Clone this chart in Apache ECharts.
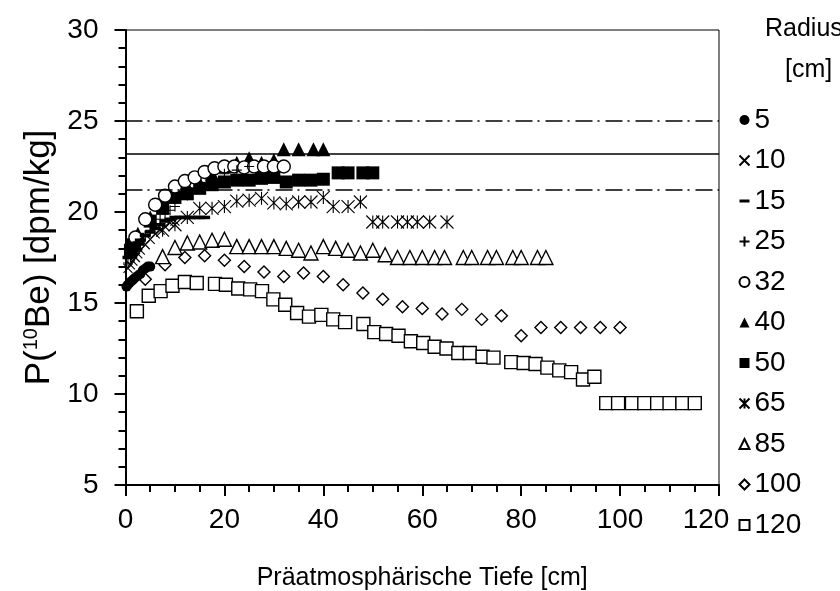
<!DOCTYPE html>
<html>
<head>
<meta charset="utf-8">
<script src="https://cdn.jsdelivr.net/npm/echarts@6/dist/echarts.min.js"></script>
<style>html,body{margin:0;padding:0;background:#fff}#c{width:840px;height:591px}</style>
</head>
<body>
<div id="c"></div>
<script>
// ---- data ----
const radii = ['5','10','15','25','32','40','50','65','85','100','120'];
const refLines = [25, 23.2, 21.2];
const xTicks = [0,20,40,60,80,100,120];
const yTicks = [5,10,15,20,25,30];

const r5x  = [0.2,0.5,0.8,1.2,1.6,2,2.5,3,3.5,4,4.5,5];
const r5y  = [15.9,16.0,16.1,16.2,16.3,16.4,16.5,16.6,16.8,16.9,17.0,17.0];
const r10x = [0.5,1,1.5,2,2.5,3,4,5,6,7,8,9,10];
const r10y = [16.9,17.1,17.3,17.5,17.7,17.9,18.2,18.5,18.8,19.0,19.2,19.4,19.5];
const r15x = [0.5,1,1.5,2,2.5,3,4,5,6,7,8,9,10,11,12,13,14,15,16];
const r15y = [17.5,17.7,17.9,18.1,18.3,18.45,18.7,18.9,19.1,19.3,19.5,19.6,19.7,19.7,19.7,19.7,19.7,19.7,19.7];
const r25x = [0.5,1,2,3,4,5,6,7,8,9,10,12.5,15,17.5,20,22.5,25];
const r25y = [17.2,17.5,17.9,18.3,18.7,19.0,19.3,19.6,19.9,20.1,20.3,20.9,21.4,21.8,22.1,22.3,22.5];
const r32x = [2,4,6,8,10,12,14,16,18,20,22,24,26,28,30,32];
const r32y = [18.6,19.6,20.4,20.9,21.4,21.7,21.9,22.2,22.4,22.5,22.5,22.45,22.5,22.5,22.5,22.5];
const r40x = [2,2.5,5,7.5,10,12.5,15,17.5,20,22.5,25,27.5,30,32,35,38,40];
const r40y = [18.3,18.8,19.7,20.6,21.1,21.4,21.6,22.1,22.5,22.7,22.95,22.7,22.85,23.45,23.45,23.45,23.45];
const r50x = [1,1.5,2.5,5,7.5,10,12.5,15,17.5,20,22.5,25,27.5,30,32.5,35,37.5,40,43,45,48,50];
const r50y = [17.9,18.2,18.5,19.5,20.2,20.8,21.0,21.3,21.5,21.65,21.75,21.75,21.85,21.9,21.65,21.75,21.75,21.8,22.15,22.15,22.15,22.15];
const r65x = [7.5,10,12.5,15,17.5,20,22.5,25,27.5,30,32.5,35,37.5,40,42,45,47.5,50,52,55,57,59,61.5,65];
const r65y = [19.0,19.3,19.7,20.2,20.2,20.3,20.6,20.65,20.75,20.5,20.45,20.55,20.55,20.8,20.3,20.3,20.55,19.45,19.45,19.45,19.45,19.45,19.45,19.45];
const r85x = [7.5,10,12.5,15,17.5,20,22.5,25,27.5,30,32.5,35,37.5,40,42.5,45,47.5,50,52.5,55,57.5,60,62.5,64.5,68.3,70,73.2,75,78.3,80,83.3,85];
const r85y = [17.55,18.05,18.3,18.35,18.45,18.5,18.1,18.1,18.1,18.1,18.0,17.9,17.75,18.1,18.0,17.9,17.75,17.9,17.65,17.5,17.5,17.5,17.5,17.5,17.5,17.5,17.5,17.5,17.5,17.5,17.5,17.5];
const r100x = [4,8,12,16,20,24,28,32,36,40,44,48,52,56,60,64,68,72,76,80,84,88,92,96,100];
const r100y = [16.3,17.1,17.5,17.6,17.35,17.0,16.7,16.45,16.65,16.45,16.0,15.55,15.2,14.8,14.7,14.4,14.65,14.1,14.3,13.2,13.65,13.65,13.65,13.65,13.65];
const r120x = [2.3,4.7,7.1,9.5,12,14.4,18.1,20.3,22.8,25.2,27.6,29.9,32.3,34.7,37.1,39.6,42,44.4,48.1,50.3,52.7,55.2,57.7,60.2,62.5,64.9,67.3,69.6,72.2,74.4,78,80.5,82.9,85.3,87.7,90.1,92.5,94.8,97.2,99.6,102.4,104.9,107.5,110,112.6,115.1];
const r120y = [14.55,15.4,15.65,15.95,16.15,16.1,16.05,16.0,15.8,15.75,15.65,15.2,14.9,14.45,14.25,14.35,14.1,13.95,13.85,13.4,13.3,13.2,12.9,12.8,12.6,12.5,12.25,12.25,12.05,12.0,11.75,11.7,11.65,11.45,11.3,11.2,10.8,10.95,9.5,9.5,9.5,9.5,9.5,9.5,9.5,9.5];

// ---- build ----
const FONT = '"Liberation Sans", Arial, sans-serif';
const zip = (xs, ys) => xs.map((x, i) => [x, ys[i]]);
const xs = [r5x,r10x,r15x,r25x,r32x,r40x,r50x,r65x,r85x,r100x,r120x];
const ys = [r5y,r10y,r15y,r25y,r32y,r40y,r50y,r65y,r85y,r100y,r120y];

const filled = {color:'#000', borderColor:'#000', borderWidth:0, opacity:1};
const open = {color:'#fff', borderColor:'#000', borderWidth:1.4, opacity:1};
const stroke = {color:'none', borderColor:'#000', borderWidth:1.1, opacity:1};
const styles = [
  {symbol:'circle', size:10, it:filled},
  {symbol:'path://M0,0L10,10M10,0L0,10', size:9, it:stroke},
  {symbol:'path://M0,0L10,0L10,3L0,3Z', size:[11,3.5], it:filled},
  {symbol:'path://M5,0L5,10M0,5L10,5', size:10, it:stroke},
  {symbol:'circle', size:13, it:open},
  {symbol:'triangle', size:14, it:filled},
  {symbol:'rect', size:13, it:filled},
  {symbol:'path://M0,0L10,10M10,0L0,10M5,0L5,10', size:13, it:stroke},
  {symbol:'triangle', size:14, it:open},
  {symbol:'diamond', size:12, it:open},
  {symbol:'rect', size:13, it:open}
];
const legendIcons = [
  'circle',
  'path://M0,0L10,10M10,0L0,10',
  'path://M0,0L10,0L10,3L0,3Z',
  'path://M5,0L5,10M0,5L10,5',
  'circle','triangle','rect',
  'path://M0,0L10,10M10,0L0,10M5,0L5,10',
  'triangle','diamond','rect'
];

const series = radii.map((r, i) => ({
  name: r,
  type: 'scatter',
  data: zip(xs[i], ys[i]),
  symbol: styles[i].symbol,
  symbolSize: styles[i].size,
  itemStyle: styles[i].it,
  emphasis: {disabled: true},
  z: 3 + (10 - i) * 0.01,
  animation: false
}));
series[0].markLine = {
  silent: true, symbol: 'none', animation: false,
  label: {show: false},
  data: refLines.map((v, k) => ({
    yAxis: v,
    lineStyle: {color:'#000', width: 1.6, opacity: 1, type: k === 1 ? 'solid' : [17, 5, 2, 6]}
  }))
};

const xMax = xTicks[xTicks.length-1];
const chart = echarts.init(document.getElementById('c'), null, {renderer:'canvas'});
chart.setOption({
  animation: false,
  backgroundColor: '#fff',
  textStyle: {fontFamily: FONT, color:'#000'},
  grid: {left: 125.5, right: 121, top: 30, bottom: 106, show: true, borderColor: '#000', borderWidth: 1,
    backgroundColor:'transparent', containLabel: false, outerBoundsMode: 'none'},
  xAxis: {
    type: 'value', min: xTicks[0], max: xMax, interval: xTicks[1]-xTicks[0],
    axisLine: {show: true, onZero: false, lineStyle: {color:'#000', width: 2}},
    axisTick: {show: true, inside: false, length: 11, lineStyle: {color:'#000', width: 2}},
    minorTick: {show: true, splitNumber: 4, length: 7, lineStyle: {color:'#000', width: 2}},
    splitLine: {show: false},
    axisLabel: {fontSize: 28, color:'#000', fontFamily: FONT, margin: 21,
      formatter: v => v === xMax ? '{m|' + v + '}' : String(v),
      rich: {m: {fontSize: 28, fontFamily: FONT, color:'#000', padding: [0, 26, 0, 0]}}},
    name: 'Präatmosphärische Tiefe [cm]', nameLocation: 'middle', nameGap: 81,
    nameTextStyle: {fontSize: 25, color:'#000', fontFamily: FONT}
  },
  yAxis: {
    type: 'value', min: yTicks[0], max: yTicks[yTicks.length-1], interval: yTicks[1]-yTicks[0],
    axisLine: {show: true, onZero: false, lineStyle: {color:'#000', width: 2}},
    axisTick: {show: true, inside: false, length: 11, lineStyle: {color:'#000', width: 2}},
    minorTick: {show: true, splitNumber: 5, length: 7, lineStyle: {color:'#000', width: 2}},
    splitLine: {show: false},
    axisLabel: {fontSize: 28, color:'#000', fontFamily: FONT, margin: 27},
    name: '{a|P(}{s|10}{a|Be) [dpm/kg]}', nameLocation: 'middle', nameGap: 68, nameRotate: 90,
    nameTextStyle: {fontSize: 35, color:'#000', fontFamily: FONT,
      rich: {a: {fontSize: 35, fontFamily: FONT, color:'#000'}, s: {fontSize: 20, fontFamily: FONT, color:'#000', verticalAlign:'top', padding:[0,0,15,0]}}}
  },
  legend: {
    orient: 'vertical', left: 732, top: 100,
    itemGap: 10.5, itemWidth: 10, itemHeight: 10,
    selectedMode: false,
    textStyle: {fontSize: 28, fontFamily: FONT, color:'#000', lineHeight: 30},
    data: radii.map((r, i) => ({name: r, icon: legendIcons[i]}))
  },
  graphic: [
    {type:'text', left: 765, top: 17, style: {text:'Radius', font: '25px ' + FONT, fill:'#000'}},
    {type:'text', left: 785, top: 58, style: {text:'[cm]', font: '25px ' + FONT, fill:'#000'}}
  ],
  series: series
});
</script>
</body>
</html>
